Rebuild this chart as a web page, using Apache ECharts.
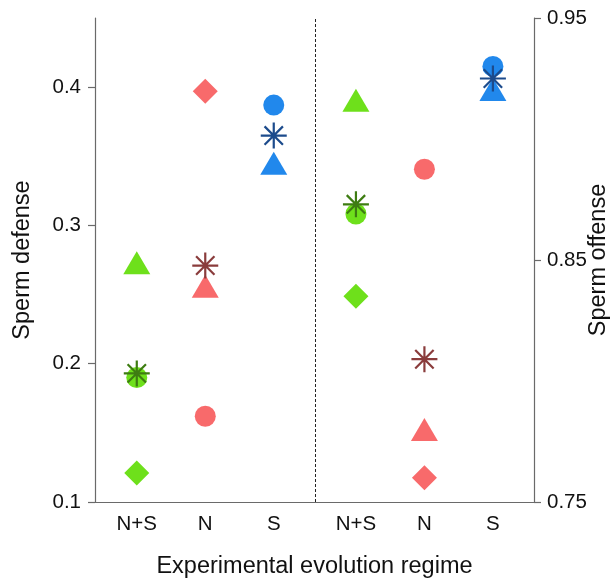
<!DOCTYPE html>
<html>
<head>
<meta charset="utf-8">
<script src="https://cdn.jsdelivr.net/npm/echarts@6/dist/echarts.min.js"></script>
<style>
html,body{margin:0;padding:0;background:#fff;}
#chart{width:610px;height:580px;}
</style>
</head>
<body>
<div id="chart"></div>
<script>
// ---- data ----
const categories = ['N+S', 'N', 'S'];
const defenseTicks = [0.1, 0.2, 0.3, 0.4];
const offenseTicks = [0.75, 0.85, 0.95];

// Sperm defense (left panel, left axis)
const defenseCircle   = [0.190, 0.162, 0.387];
const defenseTriangle = [0.273, 0.256, 0.345];
const defenseDiamond  = [0.121, 0.397, null];
const defenseMean     = [0.193, 0.271, 0.365];

// Sperm offense (right panel, right axis)
const offenseCircle   = [0.869, 0.8875, 0.930];
const offenseTriangle = [0.916, 0.780, 0.9205];
const offenseDiamond  = [0.835, 0.760, null];
const offenseMean     = [0.873, 0.809, 0.925];

// ---- styling ----
const fillColors = ['#6EE01B', '#F86A6B', '#2188EC'];
const meanColors = ['#3E7C12', '#8A3C3C', '#1C4B8C'];
const FONT = 'Liberation Sans, Arial, Helvetica, sans-serif';
const leftOffset = 1, rightOffset = 4.2, dividerX = 3.6;
const xLabelValues = [];
const xLabelText = {};
categories.forEach((c, i) => {
  xLabelValues.push(i + leftOffset);  xLabelText[(i + leftOffset).toFixed(1)] = c;
});
categories.forEach((c, i) => {
  xLabelValues.push(i + rightOffset); xLabelText[(i + rightOffset).toFixed(1)] = c;
});

const asteriskPath = 'path://M0,-1L0,1M-1,0L1,0M-0.7071,-0.7071L0.7071,0.7071M-0.7071,0.7071L0.7071,-0.7071';

function pts(values, offset, palette) {
  const out = [];
  values.forEach((v, i) => {
    if (v === null || v === undefined) return;
    out.push({ value: [i + offset, v], itemStyle: { color: palette[i], opacity: 1 } });
  });
  return out;
}
function meanPts(values, offset) {
  const out = [];
  values.forEach((v, i) => {
    if (v === null || v === undefined) return;
    out.push({ value: [i + offset, v], itemStyle: { color: 'rgba(0,0,0,0)', borderColor: meanColors[i], borderWidth: 2.2, opacity: 1 } });
  });
  return out;
}
function series(name, data, yIdx, symbol, size, z) {
  return { name, type: 'scatter', xAxisIndex: 0, yAxisIndex: yIdx, data, symbol, symbolSize: size, z, silent: true, animation: false, itemStyle: { opacity: 1 } };
}

const seriesList = [
  series('dc', pts(defenseCircle, leftOffset, fillColors), 0, 'circle', 21, 2),
  series('dt', pts(defenseTriangle, leftOffset, fillColors), 0, 'triangle', [27, 23], 3),
  series('dd', pts(defenseDiamond, leftOffset, fillColors), 0, 'diamond', [25, 25], 3),
  series('oc', pts(offenseCircle, rightOffset, fillColors), 1, 'circle', 21, 2),
  series('ot', pts(offenseTriangle, rightOffset, fillColors), 1, 'triangle', [27, 23], 3),
  series('od', pts(offenseDiamond, rightOffset, fillColors), 1, 'diamond', [25, 25], 3),
  series('dm', meanPts(defenseMean, leftOffset), 0, asteriskPath, [26, 26], 5),
  series('om', meanPts(offenseMean, rightOffset), 1, asteriskPath, [26, 26], 5)
];
seriesList[0].markLine = {
  silent: true, symbol: ['none', 'none'], label: { show: false },
  lineStyle: { type: [3, 2], color: '#222', width: 1 },
  data: [{ xAxis: dividerX }]
};

const axisLineStyle = { color: '#6a6a6a', width: 1.2 };

const option = {
  backgroundColor: '#fff',
  animation: false,
  grid: { left: 95, right: 76, top: 18, bottom: 78, containLabel: false, outerBoundsMode: 'none' },
  xAxis: {
    type: 'value', min: 0.39, max: 6.8,
    name: 'Experimental evolution regime', nameLocation: 'middle', nameGap: 53, nameMoveOverlap: false,
    nameTextStyle: { fontFamily: FONT, fontSize: 23.5, color: '#111' },
    axisLine: { show: true, lineStyle: axisLineStyle },
    axisTick: { show: false },
    splitLine: { show: false },
    axisLabel: {
      customValues: xLabelValues, margin: 12,
      fontFamily: FONT, fontSize: 20.5, color: '#111',
      formatter: v => xLabelText[Number(v).toFixed(1)] || ''
    }
  },
  yAxis: [
    {
      type: 'value', position: 'left', min: 0.1, max: 0.45,
      name: 'Sperm defense', nameLocation: 'middle', nameGap: 60, nameRotate: 90, nameMoveOverlap: false,
      nameTextStyle: { fontFamily: FONT, fontSize: 23.5, color: '#111' },
      axisLine: { show: true, onZero: false, lineStyle: axisLineStyle },
      axisTick: { show: true, customValues: defenseTicks, length: 7, lineStyle: axisLineStyle },
      splitLine: { show: false },
      axisLabel: { customValues: defenseTicks, margin: 14, fontFamily: FONT, fontSize: 20.5, color: '#111',
        formatter: v => String(Number(v.toFixed(2))) }
    },
    {
      type: 'value', position: 'right', min: 0.75, max: 0.95,
      name: 'Sperm offense', nameLocation: 'middle', nameGap: 53, nameRotate: 90, nameMoveOverlap: false,
      nameTextStyle: { fontFamily: FONT, fontSize: 23.5, color: '#111' },
      axisLine: { show: true, onZero: false, lineStyle: axisLineStyle },
      axisTick: { show: true, customValues: offenseTicks, length: 7, lineStyle: axisLineStyle },
      splitLine: { show: false },
      axisLabel: { customValues: offenseTicks, margin: 13, fontFamily: FONT, fontSize: 20.5, color: '#111',
        formatter: v => Number(v).toFixed(2) }
    }
  ],
  series: seriesList
};

const chart = echarts.init(document.getElementById('chart'), null, { renderer: 'canvas' });
chart.setOption(option);
</script>
</body>
</html>
